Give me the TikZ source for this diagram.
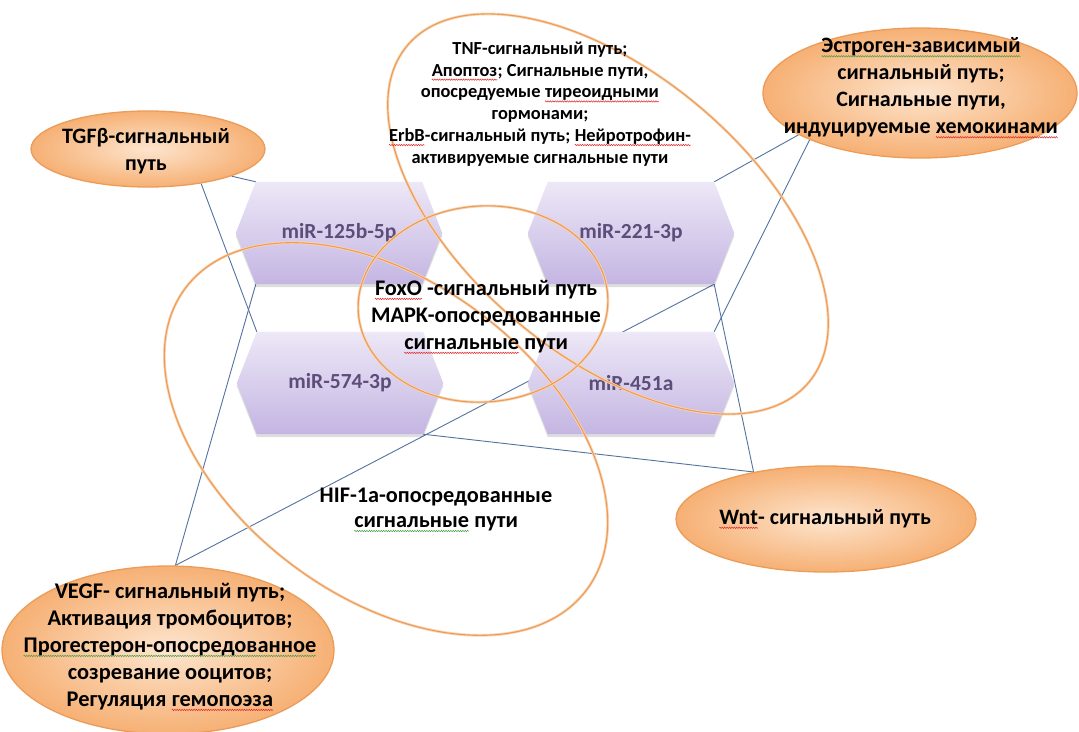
\documentclass[tikz,border=0pt]{standalone}
\usepackage{fontspec}
\setmainfont{Carlito}
\usetikzlibrary{shapes.geometric,backgrounds,decorations.pathmorphing}
\definecolor{linec}{RGB}{84,115,160}
\definecolor{hexTop}{RGB}{237,232,247}
\definecolor{hexBot}{RGB}{196,181,226}
\definecolor{hexText}{RGB}{92,78,122}
\definecolor{orIn}{RGB}{253,229,206}
\definecolor{orOut}{RGB}{246,176,116}
\definecolor{orLine}{RGB}{236,156,88}
\definecolor{orHalo}{RGB}{249,212,178}
\definecolor{sqred}{RGB}{225,40,40}
\definecolor{sqgreen}{RGB}{70,160,70}
\newcommand\squig[2]{\tikz[baseline=(sqw.base)]{\node[inner sep=0pt, outer sep=0pt] (sqw) {#2};
  \draw[#1, line width=0.5pt, decorate, decoration={zigzag, amplitude=0.7pt, segment length=2.4pt}] ([yshift=-3.5pt]sqw.base west) -- ([yshift=-3.5pt]sqw.base east);}}
\newcommand\sqr[1]{\squig{sqred}{#1}}
\newcommand\sqg[1]{\squig{sqgreen}{#1}}
\begin{document}
\begin{tikzpicture}[x=1pt,y=1pt,
  conn/.style={draw=linec, line width=0.9pt},
  hexnode/.style={minimum width=206pt, minimum height=102pt, inner sep=0pt, text=hexText, font=\fontsize{21.5pt}{25pt}\selectfont\bfseries},
  hex rest/.style={insert path={-- ([xshift=20pt]#1.north west) -- ([xshift=-20pt]#1.north east) -- (#1.east) -- ([xshift=-20pt]#1.south east) -- ([xshift=20pt]#1.south west) -- cycle}},
  ring/.style={ellipse, inner sep=0pt, draw=orHalo, double=orLine, double distance=1.1pt, line width=0.8pt},
  blob/.style={ellipse, inner sep=0pt, draw=orLine, line width=1.3pt, inner color=orIn, outer color=orOut},
  lbl/.style={align=center, text=black, inner sep=0pt},
]
\useasboundingbox (0,0) rectangle (1079,-731);

% miRNA hexagons (labels; fills drawn on background layer)
\node[hexnode] (h1) at (339,-233) {miR-125b-5p};
\node[hexnode] (h2) at (631,-233) {miR-221-3p};
\node[hexnode] (h3) at (340,-383) {miR-574-3p};
\node[hexnode] (h4) at (631,-383) {miR-451a};

% outline ellipses
\node[ring, minimum width=524pt, minimum height=282pt, rotate=-40] (tnfring) at (608,-214) {};
\node[ring, minimum width=502pt, minimum height=314pt, rotate=-37] (hifring) at (386,-439) {};
\node[ring, minimum width=250pt, minimum height=196pt, rotate=4] (foxring) at (483,-304) {};

% filled ellipses
\node[blob, minimum width=234pt, minimum height=76pt] (tgf) at (148,-149) {};
\node[blob, minimum width=314pt, minimum height=130pt] (est) at (920,-93) {};
\node[blob, minimum width=300pt, minimum height=106pt] (wnt) at (826,-519) {};
\node[blob, minimum width=332pt, minimum height=168pt] (vegf) at (168,-650) {};

% texts
\node[lbl, font=\fontsize{22pt}{27pt}\selectfont\bfseries] (tgfT) at (146,-151) {TGFβ-сигнальный\\путь};
\node[lbl, font=\fontsize{22pt}{27pt}\selectfont\bfseries] (estT) at (921,-88) {\sqg{Эстроген-зависимый}\\сигнальный путь;\\Сигнальные пути,\\индуцируемые \sqr{хемокинами}};
\node[lbl, font=\fontsize{18.4pt}{21.8pt}\selectfont\bfseries] (tnfT) at (540,-104) {TNF-сигнальный путь;\\\sqr{Апоптоз}; Сигнальные пути,\\опосредуемые \sqr{тиреоидными}\\гормонами;\\\sqr{ErbB}-сигнальный путь; \sqr{Нейротрофин-}\\активируемые сигнальные пути};
\node[lbl, font=\fontsize{22.3pt}{27pt}\selectfont\bfseries] (foxT) at (486,-317) {\sqr{FoxO} -сигнальный путь\\MAPK-опосредованные\\\sqr{сигнальные} пути};
\node[lbl, font=\fontsize{22.3pt}{25pt}\selectfont\bfseries] (hifT) at (436,-510) {HIF-1a-опосредованные\\\sqg{сигнальные} пути};
\node[lbl, font=\fontsize{22pt}{26pt}\selectfont\bfseries] (wntT) at (825,-519) {\sqr{Wnt}- сигнальный путь};
\node[lbl, font=\fontsize{22.4pt}{27pt}\selectfont\bfseries] (vegfT) at (170,-647) {VEGF- сигнальный путь;\\Активация  тромбоцитов;\\\sqg{Прогестерон-опосредованное}\\созревание ооцитов;\\Регуляция \sqr{гемопоэза}};

\begin{scope}[on background layer]
  \fill[white] (0,0) rectangle (1079,-731);
  % connectors
  \draw[conn] (tgf.-18) -- ([xshift=20pt]h1.north west);
  \draw[conn] (tgf.-33) -- ([xshift=20pt]h3.north west);
  \draw[conn] (vegf.85) -- ([xshift=20pt]h1.south west);
  \draw[conn] (vegf.85) -- ([xshift=-20pt]h2.south east);
  \draw[conn] (est.199) -- ([xshift=-20pt]h2.north east);
  \draw[conn] (est.203) -- ([xshift=-20pt]h4.north east);
  \draw[conn] ([xshift=-20pt]h3.south east) -- (wnt.147);
  \draw[conn] ([xshift=-20pt]h2.south east) -- (wnt.147);
  % hexagon bodies
  \foreach \h in {h1,h2,h3,h4}{
    \fill[black, opacity=0.13, transform canvas={yshift=-3pt}] (\h.west) [hex rest=\h];
    \shade[top color=hexTop, bottom color=hexBot] (\h.west) [hex rest=\h];
  }
\end{scope}
\end{tikzpicture}
\end{document}
